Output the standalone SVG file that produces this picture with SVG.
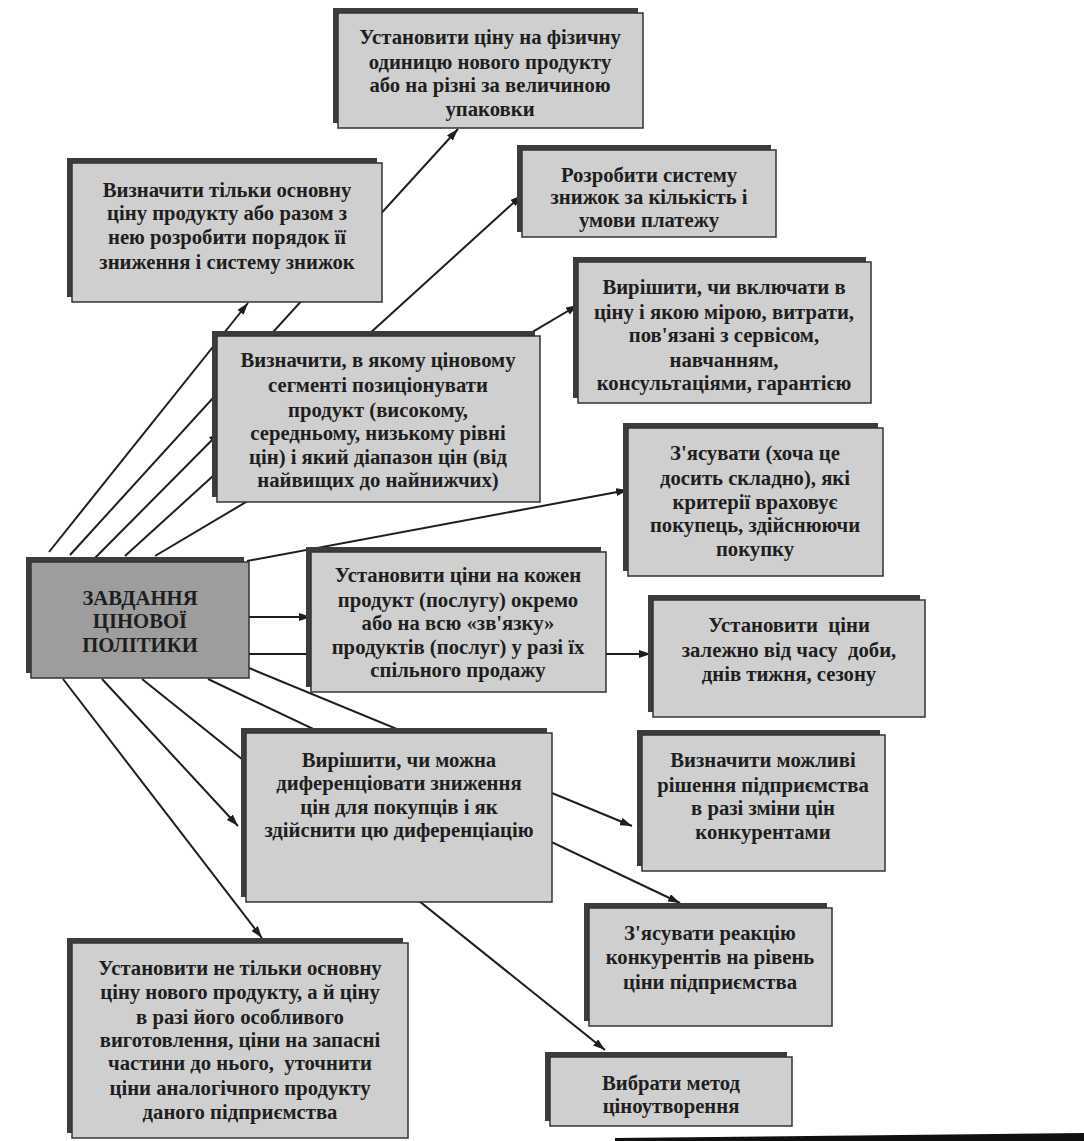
<svg xmlns="http://www.w3.org/2000/svg" width="1084" height="1141" viewBox="0 0 1084 1141">
<defs>
<style>
.sh{fill:#3c3c3c}
.bx{fill:#cfcfcf;stroke:#333;stroke-width:1.5}
.cbx{fill:#9d9d9d;stroke:#333;stroke-width:1.5}
.t{font-family:"Liberation Serif","Times New Roman",serif;font-weight:bold;font-size:20.7px;fill:#1e1e1e;text-anchor:middle}
.c{stroke:#1e1e1e;stroke-width:2;fill:none}
.a{marker-end:url(#ah)}
</style>
<marker id="ah" viewBox="0 0 12 8" refX="12" refY="4" markerWidth="12" markerHeight="8" markerUnits="userSpaceOnUse" orient="auto">
<path d="M0,0 L12,4 L0,8 Z" fill="#1e1e1e"/>
</marker>
</defs>
<rect width="1084" height="1141" fill="#ffffff"/>

<g id="connectors">
<line class="c a" x1="49" y1="552" x2="248" y2="303"/>
<line class="c a" x1="70" y1="555" x2="458" y2="129"/>
<line class="c a" x1="90" y1="563" x2="220" y2="432"/>
<line class="c a" x1="125" y1="556" x2="522" y2="195"/>
<line class="c a" x1="155" y1="556" x2="578" y2="305"/>
<line class="c a" x1="247" y1="561" x2="628" y2="490"/>
<line class="c a" x1="249" y1="617" x2="311" y2="617"/>
<line class="c a" x1="249" y1="654" x2="651" y2="654"/>
<line class="c a" x1="249" y1="668" x2="632" y2="826"/>
<line class="c a" x1="208" y1="679" x2="680" y2="903"/>
<line class="c a" x1="142" y1="679" x2="605" y2="1050"/>
<line class="c a" x1="102" y1="679" x2="238" y2="826"/>
<line class="c a" x1="63" y1="679" x2="262" y2="938"/>
</g>

<g id="n1">
<rect class="sh" x="333" y="8" width="305" height="115"/>
<rect class="bx" x="338" y="13" width="305" height="115"/>
<text class="t" x="490" y="44">Установити ціну на фізичну</text>
<text class="t" x="490" y="69">одиницю нового продукту</text>
<text class="t" x="490" y="92">або на різні за величиною</text>
<text class="t" x="490" y="116">упаковки</text>
</g>

<g id="n2">
<rect class="sh" x="67" y="158" width="310" height="139"/>
<rect class="bx" x="72" y="163" width="310" height="139"/>
<text class="t" x="227" y="197">Визначити тільки основну</text>
<text class="t" x="227" y="220">ціну продукту або разом з</text>
<text class="t" x="227" y="244">нею розробити порядок її</text>
<text class="t" x="227" y="269">зниження і систему знижок</text>
</g>

<g id="n3">
<rect class="sh" x="517" y="145" width="254" height="87"/>
<rect class="bx" x="522" y="150" width="254" height="87"/>
<text class="t" x="649" y="182">Розробити систему</text>
<text class="t" x="649" y="204">знижок за кількість і</text>
<text class="t" x="649" y="227">умови платежу</text>
</g>

<g id="n4">
<rect class="sh" x="573" y="257" width="293" height="141"/>
<rect class="bx" x="578" y="262" width="293" height="141"/>
<text class="t" x="724" y="294">Вирішити, чи включати в</text>
<text class="t" x="724" y="319">ціну і якою мірою, витрати,</text>
<text class="t" x="724" y="342">пов'язані з сервісом,</text>
<text class="t" x="724" y="367">навчанням,</text>
<text class="t" x="724" y="390">консультаціями, гарантією</text>
</g>

<g id="n5">
<rect class="sh" x="212" y="331" width="323" height="166"/>
<rect class="bx" x="217" y="336" width="323" height="166"/>
<text class="t" x="378" y="367">Визначити, в якому ціновому</text>
<text class="t" x="378" y="392">сегменті позиціонувати</text>
<text class="t" x="378" y="417">продукт (високому,</text>
<text class="t" x="378" y="440">середньому, низькому рівні</text>
<text class="t" x="378" y="464">цін) і який діапазон цін (від</text>
<text class="t" x="378" y="487">найвищих до найнижчих)</text>
</g>

<g id="n6">
<rect class="sh" x="623" y="423" width="255" height="148"/>
<rect class="bx" x="628" y="428" width="255" height="148"/>
<text class="t" x="755" y="460">З'ясувати (хоча це</text>
<text class="t" x="755" y="485">досить складно), які</text>
<text class="t" x="755" y="509">критерії враховує</text>
<text class="t" x="755" y="532">покупець, здійснюючи</text>
<text class="t" x="755" y="556">покупку</text>
</g>

<g id="center">
<rect class="sh" x="26" y="557" width="218" height="116"/>
<rect class="cbx" x="31" y="562" width="218" height="116"/>
<text class="t" x="140" y="605">ЗАВДАННЯ</text>
<text class="t" x="140" y="628">ЦІНОВОЇ</text>
<text class="t" x="140" y="652">ПОЛІТИКИ</text>
</g>

<g id="n7">
<rect class="sh" x="306" y="547" width="295" height="140"/>
<rect class="bx" x="311" y="552" width="295" height="140"/>
<text class="t" x="458" y="582">Установити ціни на кожен</text>
<text class="t" x="458" y="607">продукт (послугу) окремо</text>
<text class="t" x="458" y="630">або на всю «зв'язку»</text>
<text class="t" x="458" y="654">продуктів (послуг) у разі їх</text>
<text class="t" x="458" y="677">спільного продажу</text>
</g>

<g id="n8">
<rect class="sh" x="648" y="595" width="272" height="117"/>
<rect class="bx" x="653" y="600" width="272" height="117"/>
<text class="t" x="789" y="632" xml:space="preserve">Установити  ціни</text>
<text class="t" x="789" y="657" xml:space="preserve">залежно від часу  доби,</text>
<text class="t" x="789" y="681">днів тижня, сезону</text>
</g>

<g id="n9">
<rect class="sh" x="241" y="728" width="306" height="169"/>
<rect class="bx" x="246" y="733" width="306" height="169"/>
<text class="t" x="399" y="767">Вирішити, чи можна</text>
<text class="t" x="399" y="790">диференціовати зниження</text>
<text class="t" x="399" y="814">цін для покупців і як</text>
<text class="t" x="399" y="837">здійснити цю диференціацію</text>
</g>

<g id="n10">
<rect class="sh" x="637" y="730" width="243" height="136"/>
<rect class="bx" x="642" y="735" width="243" height="136"/>
<text class="t" x="763" y="767">Визначити можливі</text>
<text class="t" x="763" y="792">рішення підприємства</text>
<text class="t" x="763" y="815">в разі зміни цін</text>
<text class="t" x="763" y="839">конкурентами</text>
</g>

<g id="n11">
<rect class="sh" x="584" y="903" width="243" height="118"/>
<rect class="bx" x="589" y="908" width="243" height="118"/>
<text class="t" x="710" y="940">З'ясувати реакцію</text>
<text class="t" x="710" y="964">конкурентів на рівень</text>
<text class="t" x="710" y="989">ціни підприємства</text>
</g>

<g id="n12">
<rect class="sh" x="545" y="1052" width="242" height="69"/>
<rect class="bx" x="550" y="1057" width="242" height="69"/>
<text class="t" x="671" y="1090">Вибрати метод</text>
<text class="t" x="671" y="1113">ціноутворення</text>
</g>

<g id="n13">
<rect class="sh" x="67" y="938" width="336" height="195"/>
<rect class="bx" x="72" y="943" width="336" height="195"/>
<text class="t" x="240" y="975">Установити не тільки основну</text>
<text class="t" x="240" y="999">ціну нового продукту, а й ціну</text>
<text class="t" x="240" y="1024">в разі його особливого</text>
<text class="t" x="240" y="1047">виготовлення, ціни на запасні</text>
<text class="t" x="240" y="1070" xml:space="preserve">частини до нього,  уточнити</text>
<text class="t" x="240" y="1095">ціни аналогічного продукту</text>
<text class="t" x="240" y="1119">даного підприємства</text>
</g>

<path d="M615,1138 L1084,1133 L1084,1141 L615,1141 Z" fill="#111"/>
</svg>
